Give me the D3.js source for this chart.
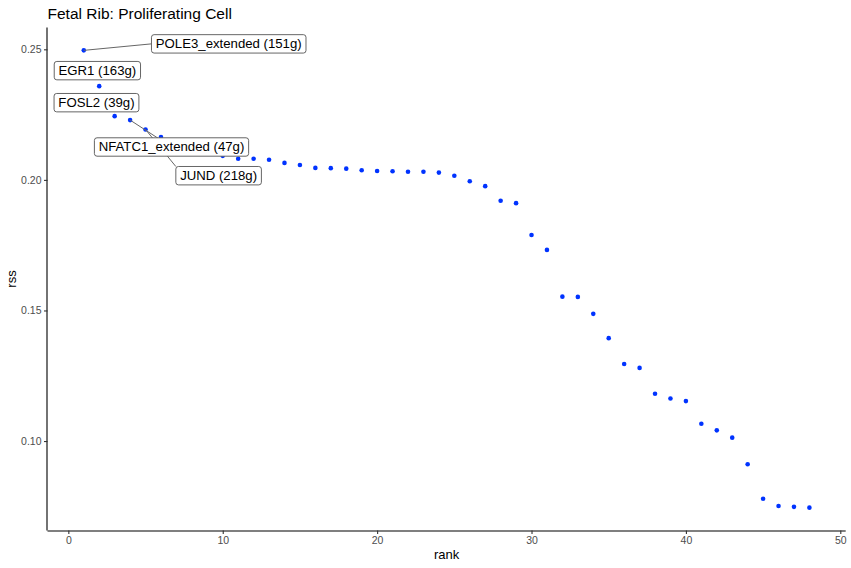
<!DOCTYPE html>
<html>
<head>
<meta charset="utf-8">
<style>
  body { margin: 0; background: #fff; }
  svg { display: block; font-family: "Liberation Sans", Arial, sans-serif; }
</style>
</head>
<body>
<div id="chart"></div>
<script src="https://d3js.org/d3.v7.min.js"></script>
<script>
  // data: rss per regulon rank
  const ranks = d3.range(1, 49);
  const rssValues = [
    0.2496, 0.2359, 0.2244, 0.2229, 0.2193, 0.2164, 0.2140, 0.2118, 0.2100, 0.2092,
    0.2081, 0.2081, 0.2077, 0.2065, 0.2057, 0.2046, 0.2045, 0.2043, 0.2037, 0.2034,
    0.2033, 0.2031, 0.2031, 0.2028, 0.2016, 0.1995, 0.1976, 0.1920, 0.1911, 0.1789,
    0.1732, 0.1553, 0.1552, 0.1487, 0.1394, 0.1295, 0.1280, 0.1181, 0.1163, 0.1153,
    0.1066, 0.1041, 0.1013, 0.0911, 0.0779, 0.0751, 0.0748, 0.0745
  ];
  const xTicks = [0, 10, 20, 30, 40, 50];
  const yTicks = [0.10, 0.15, 0.20, 0.25];
  const labelNames = ["POLE3_extended (151g)", "EGR1 (163g)", "FOSL2 (39g)",
                      "NFATC1_extended (47g)", "JUND (218g)"];
  const labelRanks = [1, 2, 3, 4, 5];

  const W = 851, H = 568;
  const panel = {left: 47.5, right: 845.7, top: 27.5, bottom: 530.5};

  const svg = d3.select('#chart').append('svg')
      .attr('width', W)
      .attr('height', H);

  // ggplot-like 5% expansion
  const xr = d3.extent(ranks), yr = d3.extent(rssValues);
  const xpad = (xr[1] - xr[0]) * 0.05, ypad = (yr[1] - yr[0]) * 0.05;
  const x = d3.scaleLinear().domain([xr[0] - xpad, xr[1] + xpad]).range([panel.left, panel.right]);
  const y = d3.scaleLinear().domain([yr[0] - ypad, yr[1] + ypad]).range([panel.bottom, panel.top]);

  // axes
  const xAxis = svg.append('g')
      .attr('transform', `translate(0,${panel.bottom})`)
      .call(d3.axisBottom(x).tickValues(xTicks).tickSize(3.5).tickPadding(3).tickFormat(d3.format('d')));
  const yAxis = svg.append('g')
      .attr('transform', `translate(${panel.left},0)`)
      .call(d3.axisLeft(y).tickValues(yTicks).tickSize(3.5).tickPadding(2.5).tickFormat(d3.format('.2f')));

  [xAxis, yAxis].forEach(g => {
    g.select('.domain').attr('stroke', '#000').attr('stroke-width', 1.1);
    g.selectAll('.tick line').attr('stroke', '#333').attr('stroke-width', 1.1);
    g.selectAll('.tick text')
     .attr('fill', '#4d4d4d')
     .style('font-size', '10.5px')
     .style('font-family', '"Liberation Sans", Arial, sans-serif');
  });
  // plain axis lines, no end caps
  xAxis.select('.domain').attr('d', `M${panel.left},0.5H${panel.right}`);
  yAxis.select('.domain').attr('d', `M-0.5,${panel.top}V${panel.bottom}`);

  // axis titles
  svg.append('text')
     .attr('x', (panel.left + panel.right) / 2)
     .attr('y', 559)
     .attr('text-anchor', 'middle')
     .style('font-size', '13px')
     .text('rank');
  svg.append('text')
     .attr('transform', `translate(16,${(panel.top + panel.bottom) / 2}) rotate(-90)`)
     .attr('text-anchor', 'middle')
     .style('font-size', '13px')
     .text('rss');

  // title
  svg.append('text')
     .attr('x', panel.left)
     .attr('y', 18.5)
     .style('font-size', '15.5px')
     .text('Fetal Rib: Proliferating Cell');

  // points
  svg.append('g')
     .selectAll('circle')
     .data(ranks)
     .enter()
     .append('circle')
     .attr('cx', (d, i) => x(d))
     .attr('cy', (d, i) => y(rssValues[i]))
     .attr('r', 2.3)
     .attr('fill', '#0033ff');

  // repel-style labels (box offsets from their point, in px)
  const boxOffsets = [[67.7, -15.7], [-45, -24.7], [-60.6, -22.7], [-35.7, 17.7], [30.3, 37]];
  const segEnd = ['leftMid', null, null, 'center', 'topLeft'];
  const boxH = 18.4, padX = 4.3;

  const segLayer = svg.append('g');
  const boxLayer = svg.append('g');

  labelNames.forEach((name, i) => {
    const r = labelRanks[i];
    const px = x(r), py = y(rssValues[r - 1]);
    const bx = px + boxOffsets[i][0], by = py + boxOffsets[i][1];

    const g = boxLayer.append('g');
    const rect = g.append('rect');
    const t = g.append('text')
       .attr('x', bx + padX)
       .attr('y', by + 13.7)
       .style('font-size', '13.2px')
       .attr('fill', '#000')
       .text(name);
    const bw = t.node().getComputedTextLength() + 2 * padX;
    rect.attr('x', bx).attr('y', by)
        .attr('width', bw).attr('height', boxH)
        .attr('rx', 2.6)
        .attr('fill', '#fff')
        .attr('stroke', '#555')
        .attr('stroke-width', 0.9);

    if (segEnd[i]) {
      let ex, ey;
      if (segEnd[i] === 'leftMid') { ex = bx; ey = by + boxH / 2; }
      else if (segEnd[i] === 'center') { ex = bx + bw / 2; ey = by + boxH / 2; }
      else { ex = bx; ey = by; }
      segLayer.append('line')
        .attr('x1', px).attr('y1', py)
        .attr('x2', ex).attr('y2', ey)
        .attr('stroke', '#666')
        .attr('stroke-width', 1);
    }
  });
</script>
</body>
</html>
